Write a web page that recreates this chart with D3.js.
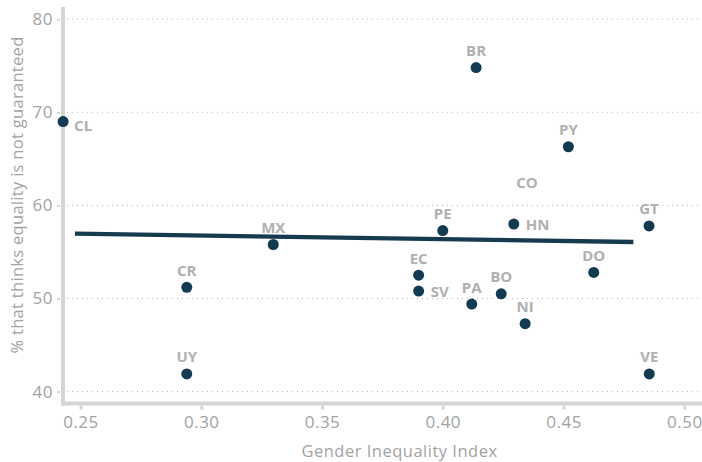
<!DOCTYPE html>
<html>
<head>
<meta charset="utf-8">
<script src="https://cdn.jsdelivr.net/npm/d3@7"></script>
<style>
  html, body { margin: 0; padding: 0; background: #fff; }
  svg { display: block; font-family: "Open Sans", Lato, sans-serif; }
</style>
</head>
<body>
<svg id="chart" width="702" height="462"></svg>
<script>
// ---- data ----
const countries = ["CL","BR","PY","HN","PE","GT","MX","CR","UY","EC","SV","PA","BO","NI","DO","VE"];
const gii       = [0.2428,0.4138,0.4520,0.4294,0.4000,0.4854,0.3298,0.2940,0.2940,0.3900,0.3900,0.4120,0.4242,0.4341,0.4625,0.4855];
const pctNotGuaranteed = [69.0,74.8,66.3,58.0,57.3,57.8,55.8,51.2,41.9,52.5,50.8,49.4,50.5,47.3,52.8,41.9];
// labelled country with no plotted value
const labelOnly = [{ name: "CO", x: 0.4349, y: 61.9 }];
const trendX = [0.2477, 0.4789];
const trendY = [56.96, 56.07];
const xTicks = [0.25, 0.30, 0.35, 0.40, 0.45, 0.50];
const yTicks = [40, 50, 60, 70, 80];
const xTitle = "Gender Inequality Index";
const yTitle = "% that thinks equality is not guaranteed";

// label placement (presentation only)
const labelSide = { CL: "belowright", HN: "right", SV: "right" };

// ---- layout ----
const svg = d3.select("#chart");
const x = d3.scaleLinear().domain([0.25, 0.50]).range([80.5, 684.3]);
const y = d3.scaleLinear().domain([40, 80]).range([391.6, 19.2]);
const xMin = x.invert(63), xMax = x.invert(702);
const yMin = y.invert(403.5), yMax = y.invert(7);

const tickColor = "#a3a3a3";
const axisColor = "#d5d5d5";

// gridlines
svg.append("g").selectAll("line").data(yTicks).join("line")
  .attr("x1", x(xMin) + 4).attr("x2", 702)
  .attr("y1", d => y(d)).attr("y2", d => y(d))
  .attr("stroke", "#b5b5b5").attr("stroke-width", 1)
  .attr("stroke-dasharray", "1,4");

// y axis
const yAxis = d3.axisLeft(y).tickValues(yTicks).tickFormat(d3.format("d")).tickSize(3).tickPadding(4);
const gy = svg.append("g").attr("transform", `translate(${x(xMin) - 3},0)`).call(yAxis);
gy.select(".domain").remove();
gy.selectAll(".tick line").attr("stroke", axisColor).attr("stroke-width", 2);
gy.selectAll(".tick text").attr("fill", tickColor).style("font-size", "17px")
  .style("letter-spacing", "0.5px").attr("font-family", "'Open Sans', sans-serif");

// x axis
const xAxis = d3.axisBottom(x).tickValues(xTicks).tickFormat(d3.format(".2f")).tickSize(4).tickPadding(6);
const gx = svg.append("g").attr("transform", `translate(0,${y(yMin) + 2})`).call(xAxis);
gx.select(".domain").remove();
gx.selectAll(".tick line").attr("stroke", axisColor).attr("stroke-width", 3);
gx.selectAll(".tick text").attr("fill", tickColor).style("font-size", "17px")
  .style("letter-spacing", "0.5px").attr("font-family", "'Open Sans', sans-serif");

// axis lines
svg.append("line").attr("x1", x(xMin)).attr("x2", x(xMin))
  .attr("y1", y(yMax)).attr("y2", y(yMin) + 2)
  .attr("stroke", axisColor).attr("stroke-width", 4);
svg.append("line").attr("x1", x(xMin) - 2).attr("x2", x(xMax))
  .attr("y1", y(yMin)).attr("y2", y(yMin))
  .attr("stroke", axisColor).attr("stroke-width", 4);

// axis titles
svg.append("text").attr("x", 399.5).attr("y", 457)
  .attr("text-anchor", "middle").attr("fill", tickColor)
  .style("font-size", "16.5px").style("letter-spacing", "0.5px").text(xTitle);
svg.append("text")
  .attr("transform", `translate(23,${195}) rotate(-90)`)
  .attr("text-anchor", "middle").attr("fill", tickColor)
  .style("font-size", "16.5px").style("letter-spacing", "0.3px").text(yTitle);

// trend line
const line = d3.line().x(d => x(d[0])).y(d => y(d[1]));
svg.append("path").datum(d3.zip(trendX, trendY))
  .attr("d", line).attr("fill", "none")
  .attr("stroke", "#163b51").attr("stroke-width", 4.3);

// points
const pts = countries.map((c, i) => ({ c, gx: gii[i], py: pctNotGuaranteed[i] }));
svg.append("g").selectAll("circle").data(pts).join("circle")
  .attr("cx", d => x(d.gx)).attr("cy", d => y(d.py)).attr("r", 5.5)
  .attr("fill", "#123a50");

// labels
const labelColor = "#b0b0b0";
svg.append("g").selectAll("text").data(pts).join("text")
  .attr("x", d => {
    const s = labelSide[d.c];
    if (s === "right") return x(d.gx) + 12;
    if (s === "belowright") return x(d.gx) + 11;
    return x(d.gx);
  })
  .attr("y", d => {
    const s = labelSide[d.c];
    if (s === "right") return y(d.py) + 5.5;
    if (s === "belowright") return y(d.py) + 9.5;
    return y(d.py) - 11.5;
  })
  .attr("text-anchor", d => labelSide[d.c] ? "start" : "middle")
  .attr("fill", labelColor).style("font-size", "15px").style("font-weight", "700")
  .text(d => d.c);

svg.append("g").selectAll("text").data(labelOnly).join("text")
  .attr("x", d => x(d.x)).attr("y", d => y(d.y))
  .attr("text-anchor", "middle").attr("fill", labelColor)
  .style("font-size", "15px").style("font-weight", "700")
  .text(d => d.name);
</script>
</body>
</html>
